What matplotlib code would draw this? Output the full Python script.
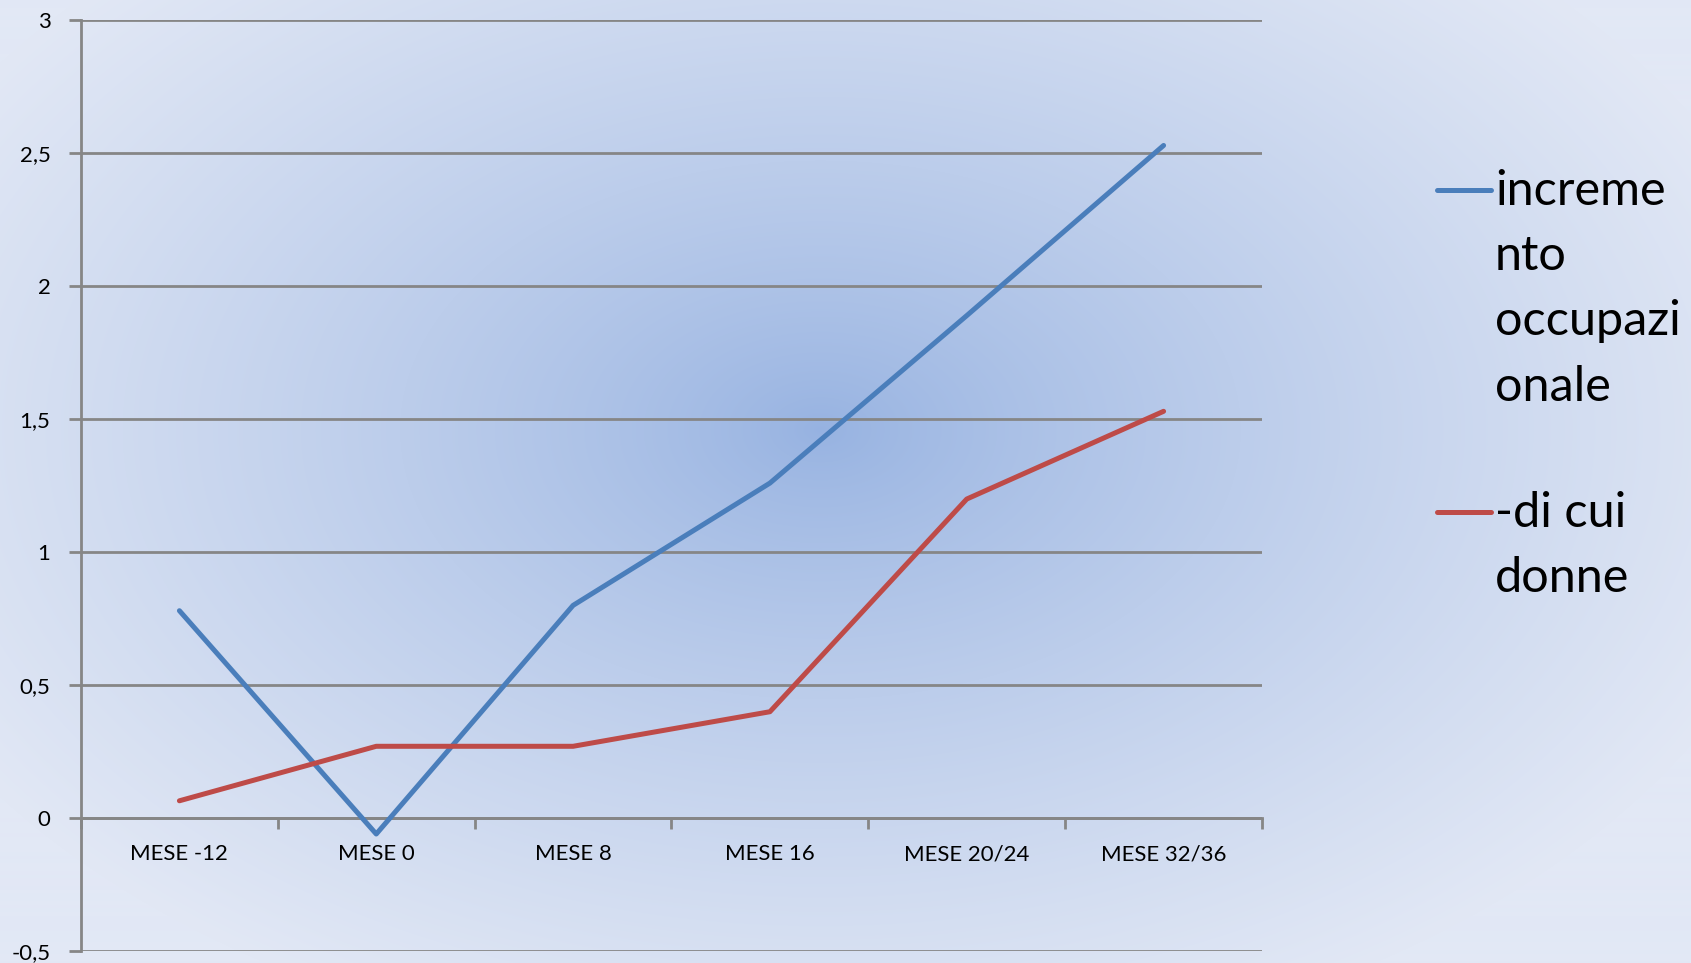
import numpy as np
import matplotlib
matplotlib.use("Agg")
import matplotlib.pyplot as plt
from matplotlib.lines import Line2D

# Dati
mesi = ["MESE -12", "MESE 0", "MESE 8", "MESE 16", "MESE 20/24", "MESE 32/36"]
incremento = [0.78, -0.06, 0.80, 1.26, 1.89, 2.53]
donne = [0.065, 0.27, 0.27, 0.40, 1.20, 1.53]
etichette = ["increme\nnto\noccupazi\nonale", "-di cui\ndonne"]
colori = ["#4a7ebb", "#be4b48"]

W, H = 1691, 963
fig = plt.figure(figsize=(W / 100, H / 100), dpi=100)

# sfondo con sfumatura radiale
bg = fig.add_axes([0, 0, 1, 1], zorder=-10)
yy, xx = np.mgrid[0:H, 0:W]
d = np.sqrt(((xx - 820) / 1000.0) ** 2 + ((yy - 430) / 640.0) ** 2)
d = np.clip(d, 0, 1) ** 0.8
c_centro = np.array([150, 178, 225]) / 255.0
c_bordo = np.array([226, 232, 245]) / 255.0
img = c_centro[None, None, :] * (1 - d[..., None]) + c_bordo[None, None, :] * d[..., None]
bg.imshow(img, aspect="auto", extent=[0, 1, 0, 1], origin="upper")
bg.axis("off")

ax = fig.add_axes([81 / W, 1 - 951 / H, (1262 - 81) / W, (951 - 20.5) / H])
ax.set_facecolor("none")

x = np.arange(len(mesi))
ax.plot(x, incremento, color=colori[0], lw=3.6, solid_capstyle="round", zorder=3)
ax.plot(x, donne, color=colori[1], lw=3.6, solid_capstyle="round", zorder=3)

ax.set_xlim(-0.5, len(mesi) - 0.5)
ax.set_ylim(-0.5, 3)
ax.set_yticks(np.arange(-0.5, 3.01, 0.5))
ax.set_yticklabels(["-0,5", "0", "0,5", "1", "1,5", "2", "2,5", "3"],
                   fontsize=16, family=["Lato", "DejaVu Sans"])
ax.yaxis.grid(True, color="#868686", lw=2)
ax.set_axisbelow(True)

gray = "#868686"
for s in ["top", "right"]:
    ax.spines[s].set_visible(False)
ax.spines["left"].set_color(gray)
ax.spines["left"].set_linewidth(2)
ax.spines["bottom"].set_position(("data", 0))
ax.spines["bottom"].set_color(gray)
ax.spines["bottom"].set_linewidth(2)

ax.tick_params(axis="y", direction="out", length=9, width=2, color=gray, pad=13)
ax.set_xticks(x)
ax.set_xticklabels(mesi, fontsize=16, family=["Lato", "DejaVu Sans"])
ax.tick_params(axis="x", which="major", length=0, pad=19)
ax.set_xticks(np.arange(-0.5, len(mesi), 1.0), minor=True)
ax.tick_params(axis="x", which="minor", direction="out", length=8, width=2, color=gray)

# legenda
leg_y = [190 / H, 512 / H]
for col, lab, ly in zip(colori, etichette, leg_y):
    fig.add_artist(Line2D([1437 / W, 1491 / W], [1 - ly, 1 - ly], color=col, lw=3.6,
                          solid_capstyle="round", transform=fig.transFigure))
    fig.text(1495 / W, 1 - ly + 0.022, lab, fontsize=35, family=["Lato", "DejaVu Sans"],
             va="top", ha="left", linespacing=1.59, color="black")

fig.savefig("out.png", dpi=100)
